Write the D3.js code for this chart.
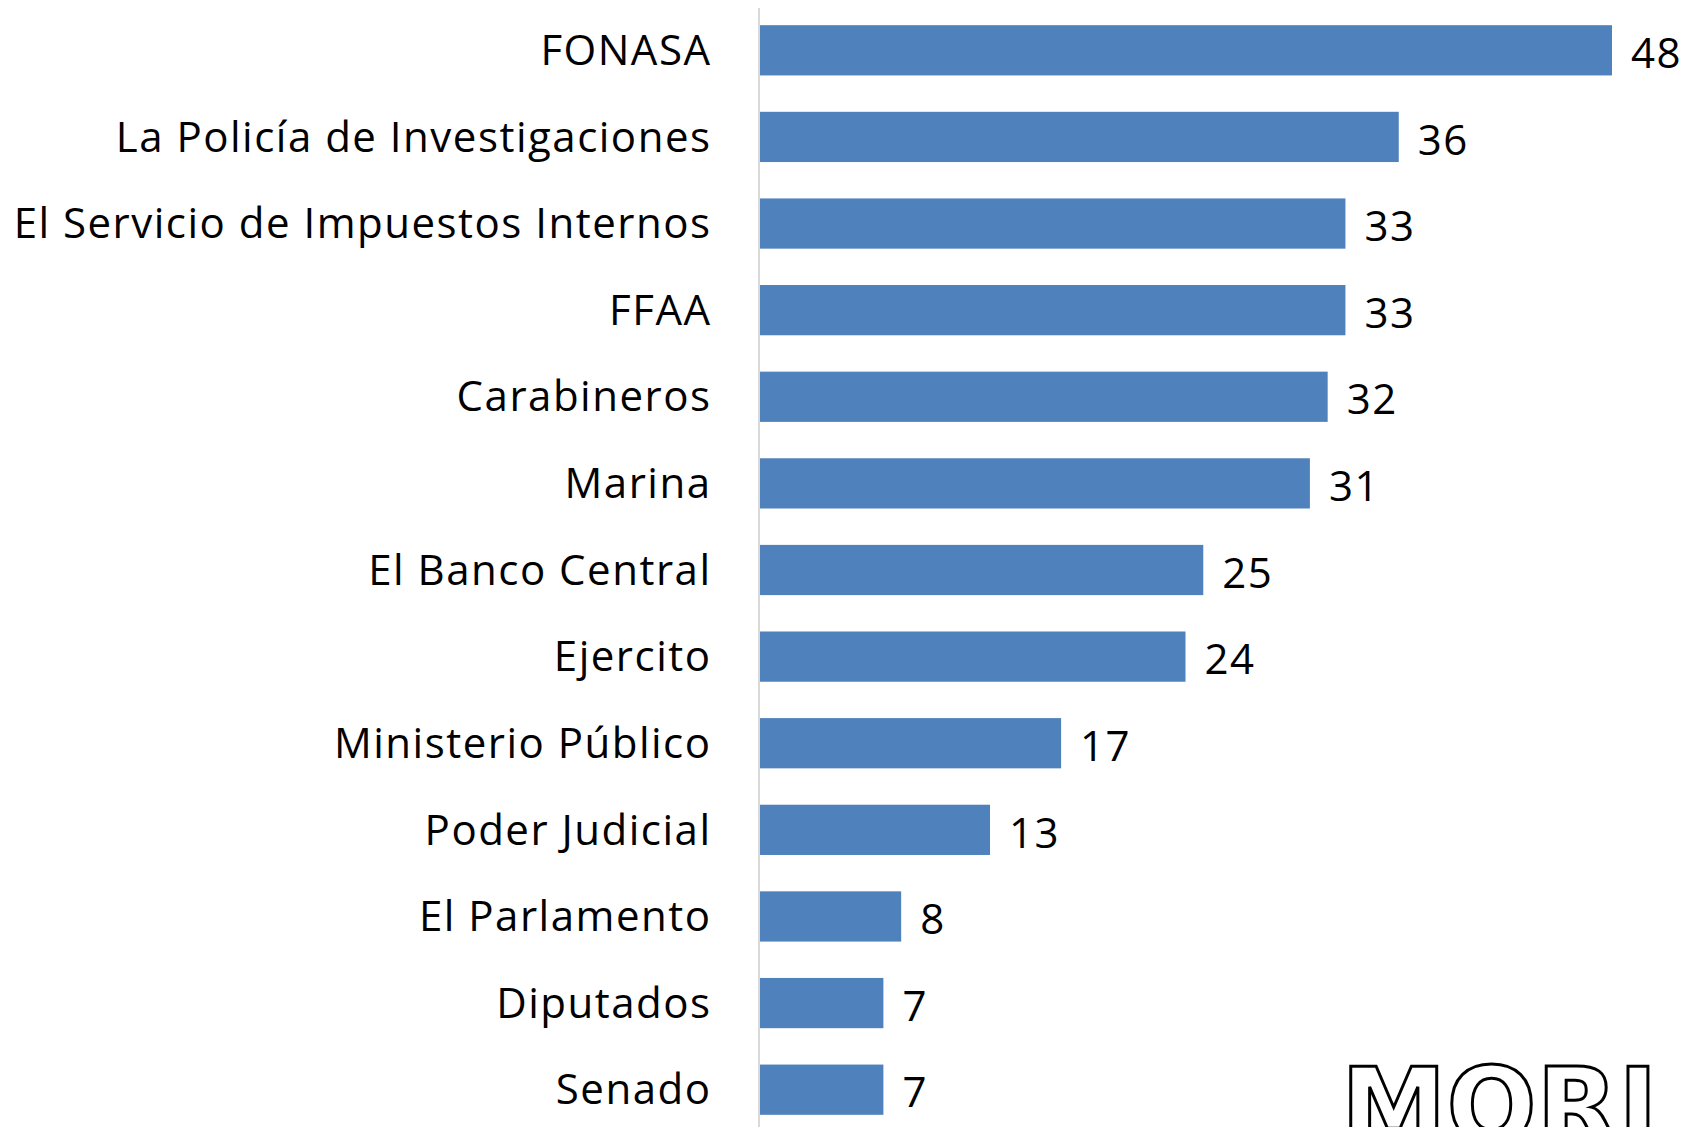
<!DOCTYPE html>
<html>
<head>
<meta charset="utf-8">
<script src="https://d3js.org/d3.v7.min.js"></script>
<style>
  body { margin: 0; background: #fff; }
  svg { display: block; }
  .label { font-family: "Open Sans", sans-serif; fill: #000; letter-spacing: 1.5px; }
</style>
</head>
<body>
<svg width="1691" height="1127"></svg>
<script>
// institutions, top to bottom
const categories = ['FONASA', 'La Policía de Investigaciones', 'El Servicio de Impuestos Internos',
  'FFAA', 'Carabineros', 'Marina', 'El Banco Central', 'Ejercito', 'Ministerio Público',
  'Poder Judicial', 'El Parlamento', 'Diputados', 'Senado'];
// confidence values
const values = [48, 36, 33, 33, 32, 31, 25, 24, 17, 13, 8, 7, 7];

const data = categories.map((c, i) => ({ name: c, value: values[i] }));

const svg = d3.select('svg');
const axisX = 759;

const xScale = d3.scaleLinear()
  .domain([0, 48])
  .range([axisX, 1612]);

const yScale = d3.scaleBand()
  .domain(categories)
  .range([7, 1133])
  .paddingInner(0.42)
  .paddingOuter(0.21);

// bars
svg.selectAll('rect.bar').data(data)
  .enter().append('rect')
  .attr('class', 'bar')
  .attr('x', xScale(0))
  .attr('y', d => yScale(d.name))
  .attr('width', d => xScale(d.value) - xScale(0))
  .attr('height', yScale.bandwidth())
  .attr('fill', '#4F81BD');

// vertical axis line
svg.append('line')
  .attr('x1', axisX).attr('x2', axisX)
  .attr('y1', 8).attr('y2', 1127)
  .attr('stroke', '#d9d9d9')
  .attr('stroke-width', 2);

// category labels
svg.selectAll('text.cat').data(data)
  .enter().append('text')
  .attr('class', 'label cat')
  .attr('x', 711.5)
  .attr('y', d => yScale(d.name) + yScale.bandwidth() / 2)
  .attr('dy', '0.35em')
  .attr('text-anchor', 'end')
  .style('font-size', '42px')
  .text(d => d.name);

// value labels
svg.selectAll('text.val').data(data)
  .enter().append('text')
  .attr('class', 'label val')
  .attr('x', d => xScale(d.value) + 19)
  .attr('y', d => yScale(d.name) + yScale.bandwidth() / 2 + 3)
  .attr('dy', '0.35em')
  .style('font-size', '42px')
  .text(d => d.value);

// MORI logo (cut off at the bottom edge, as in the source)
svg.append('text')
  .attr('x', 1341)
  .attr('y', 1143)
  .style('font-family', '"DejaVu Sans", sans-serif')
  .style('font-weight', 'bold')
  .style('font-size', '106px')
  .attr('fill', '#fff')
  .attr('stroke', '#000')
  .attr('stroke-width', 3)
  .text('MORI');
</script>
</body>
</html>
